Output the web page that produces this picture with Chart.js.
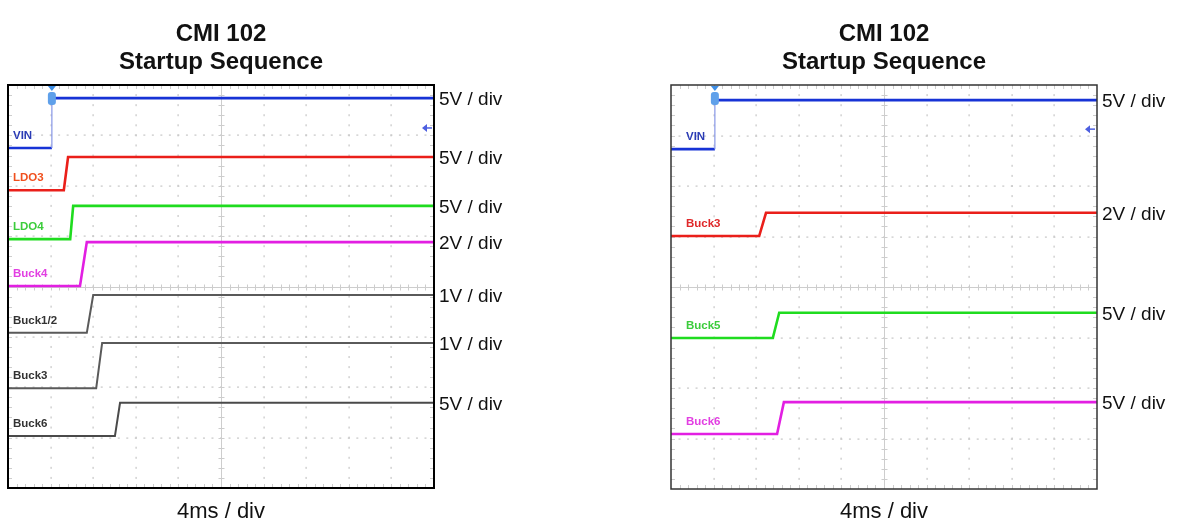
<!DOCTYPE html>
<html><head><meta charset="utf-8">
<script src="https://cdn.jsdelivr.net/npm/chart.js@4.4.0/dist/chart.umd.min.js"></script>
<style>
html,body{margin:0;padding:0;background:#fff;width:1177px;height:526px;overflow:hidden}
canvas{position:absolute;top:0}
</style></head><body>
<canvas id="c1" width="590" height="526" style="left:0"></canvas>
<canvas id="c2" width="587" height="526" style="left:590px"></canvas>
<script>
const titleLines = ['CMI 102', 'Startup Sequence'];
const timeLabel = '4ms / div';

// Left panel (x in divisions of 4 ms, y in screen divisions from bottom)
const leftNames = ['VIN', 'LDO3', 'LDO4', 'Buck4', 'Buck1/2', 'Buck3', 'Buck6'];
const leftVoltsPerDiv = ['5V / div', '5V / div', '5V / div', '2V / div', '1V / div', '1V / div', '5V / div'];
const leftTimes = [
  [0, 1.03, 1.03, 10],
  [0, 1.31, 1.41, 10],
  [0, 1.46, 1.53, 10],
  [0, 1.69, 1.85, 10],
  [0, 1.85, 2.00, 10],
  [0, 2.07, 2.21, 10],
  [0, 2.51, 2.63, 10]
];
const leftLevels = [
  [6.75, 6.75, 7.74, 7.74],
  [5.91, 5.91, 6.57, 6.57],
  [4.94, 4.94, 5.60, 5.60],
  [4.01, 4.01, 4.88, 4.88],
  [3.08, 3.08, 3.83, 3.83],
  [1.98, 1.98, 2.88, 2.88],
  [1.03, 1.03, 1.69, 1.69]
];

// Right panel
const rightNames = ['VIN', 'Buck3', 'Buck5', 'Buck6'];
const rightVoltsPerDiv = ['5V / div', '2V / div', '5V / div', '5V / div'];
const rightTimes = [
  [0, 1.03, 1.03, 10],
  [0, 2.07, 2.23, 10],
  [0, 2.39, 2.54, 10],
  [0, 2.49, 2.65, 10]
];
const rightLevels = [
  [6.73, 6.73, 7.70, 7.70],
  [5.01, 5.01, 5.47, 5.47],
  [2.99, 2.99, 3.49, 3.49],
  [1.09, 1.09, 1.72, 1.72]
];

const leftTraceColors = ['#1733d6', '#ea1f1a', '#1fdc1f', '#e21fe2', '#5a5a5a', '#5a5a5a', '#4a4a4a'];
const leftNameColors  = ['#2a3bb5', '#f0501e', '#3ccc3c', '#e23fe2', '#333333', '#333333', '#333333'];
const rightTraceColors = ['#1733d6', '#ea1f1a', '#1fdc1f', '#e21fe2'];
const rightNameColors  = ['#2a3bb5', '#e0282a', '#3ccc3c', '#e23fe2'];

function scopePlugin(cfg) {
  return {
    id: 'scope',
    beforeDatasetsDraw(chart) {
      const {ctx, chartArea: a, scales: {x, y}} = chart;
      ctx.save();
      // dotted graticule
      ctx.fillStyle = '#c6c6c6';
      for (let i = 1; i < 10; i++) {
        if (i === 5) continue;
        const px = Math.round(x.getPixelForValue(i));
        for (let m = 1; m < 40; m++) {
          const py = y.getPixelForValue(m * 0.2);
          ctx.fillRect(px - 0.5, py - 1, 1.2, 2);
        }
      }
      for (let j = 1; j < 8; j++) {
        if (j === 4) continue;
        const py = Math.round(y.getPixelForValue(j));
        for (let m = 1; m < 50; m++) {
          const px = x.getPixelForValue(m * 0.2);
          ctx.fillRect(px - 1, py - 0.5, 2, 1.2);
        }
      }
      // center axes with minor ticks
      ctx.strokeStyle = '#cdcdcd';
      ctx.lineWidth = 1;
      const cx = Math.round(x.getPixelForValue(5)) + 0.5;
      const cy = Math.round(y.getPixelForValue(4)) + 0.5;
      ctx.beginPath();
      ctx.moveTo(cx, a.top); ctx.lineTo(cx, a.bottom);
      ctx.moveTo(a.left, cy); ctx.lineTo(a.right, cy);
      for (let m = 1; m < 40; m++) {
        const py = Math.round(y.getPixelForValue(m * 0.2)) + 0.5;
        ctx.moveTo(cx - 3, py); ctx.lineTo(cx + 3, py);
        ctx.moveTo(a.left, py); ctx.lineTo(a.left + 4, py);
        ctx.moveTo(a.right, py); ctx.lineTo(a.right - 4, py);
      }
      for (let m = 1; m < 50; m++) {
        const px = Math.round(x.getPixelForValue(m * 0.2)) + 0.5;
        ctx.moveTo(px, cy - 3); ctx.lineTo(px, cy + 3);
        ctx.moveTo(px, a.top); ctx.lineTo(px, a.top + 4);
        ctx.moveTo(px, a.bottom); ctx.lineTo(px, a.bottom - 4);
      }
      ctx.stroke();
      ctx.restore();
    },
    afterDatasetsDraw(chart) {
      const {ctx, chartArea: a, scales: {x, y}} = chart;
      ctx.save();
      // frame
      ctx.strokeStyle = cfg.frameColor;
      ctx.lineWidth = cfg.frameWidth;
      ctx.strokeRect(a.left, a.top, a.width, a.height);
      // trigger marker at VIN rise
      const tx = x.getPixelForValue(cfg.times[0][1]);
      ctx.fillStyle = '#3f8fe6';
      ctx.beginPath();
      ctx.moveTo(tx - 4, a.top + 1); ctx.lineTo(tx + 4, a.top + 1); ctx.lineTo(tx, a.top + 6);
      ctx.closePath(); ctx.fill();
      ctx.fillStyle = '#5fa0ea';
      ctx.beginPath();
      ctx.roundRect(tx - 4, a.top + 7, 8, 13, 3);
      ctx.fill();
      // ground reference arrow
      const gy = y.getPixelForValue(cfg.levels[0][0]) - 20;
      ctx.strokeStyle = '#4d5fe0'; ctx.fillStyle = '#4d5fe0'; ctx.lineWidth = 1.5;
      ctx.beginPath(); ctx.moveTo(a.right - 9, gy); ctx.lineTo(a.right - 2, gy); ctx.stroke();
      ctx.beginPath(); ctx.moveTo(a.right - 12, gy); ctx.lineTo(a.right - 7, gy - 4); ctx.lineTo(a.right - 7, gy + 4);
      ctx.closePath(); ctx.fill();
      // channel names
      ctx.font = 'bold 11.5px "Liberation Sans", Arial, sans-serif';
      ctx.textBaseline = 'middle';
      ctx.textAlign = 'left';
      cfg.names.forEach((n, i) => {
        ctx.fillStyle = cfg.nameColors[i];
        ctx.fillText(n, a.left + cfg.nameDx, y.getPixelForValue(cfg.levels[i][0]) - 12);
      });
      // volts/div labels
      ctx.font = '19px "Liberation Sans", Arial, sans-serif';
      ctx.fillStyle = '#111';
      cfg.vdiv.forEach((t, i) => {
        ctx.fillText(t, a.right + 5, y.getPixelForValue(cfg.levels[i][3]) + 2);
      });
      // titles
      const mx = (a.left + a.right) / 2;
      ctx.textAlign = 'center';
      ctx.font = 'bold 24px "Liberation Sans", Arial, sans-serif';
      ctx.fillText(titleLines[0], mx, 34);
      ctx.fillText(titleLines[1], mx, 62);
      ctx.font = '22px "Liberation Sans", Arial, sans-serif';
      ctx.fillText(timeLabel, mx, 512);
      ctx.restore();
    }
  };
}

function makeScope(id, cfg, padding) {
  const datasets = cfg.names.map((n, i) => ({
    label: n,
    data: cfg.times[i].map((t, k) => ({x: t, y: cfg.levels[i][k]})),
    borderColor: cfg.traceColors[i],
    borderWidth: cfg.traceColors[i] === '#5a5a5a' || cfg.traceColors[i] === '#4a4a4a' ? 2 : 2.6,
    pointRadius: 0,
    tension: 0,
    fill: false,
    segment: {
      borderWidth: c => (i === 0 && c.p0.parsed.x === c.p1.parsed.x) ? 1.2 : undefined,
      borderColor: c => (i === 0 && c.p0.parsed.x === c.p1.parsed.x) ? '#8796e6' : undefined
    }
  }));
  return new Chart(document.getElementById(id), {
    type: 'line',
    data: {datasets},
    options: {
      responsive: false,
      animation: false,
      devicePixelRatio: 1,
      layout: {padding},
      plugins: {legend: {display: false}, tooltip: {enabled: false}, title: {display: false}},
      scales: {
        x: {type: 'linear', min: 0, max: 10, display: false},
        y: {type: 'linear', min: 0, max: 8, display: false}
      }
    },
    plugins: [scopePlugin(cfg)]
  });
}

makeScope('c1', {
  names: leftNames, vdiv: leftVoltsPerDiv, times: leftTimes, levels: leftLevels,
  traceColors: leftTraceColors, nameColors: leftNameColors,
  frameColor: '#000', frameWidth: 2, nameDx: 5
}, {left: 8, right: 156, top: 85, bottom: 38});

makeScope('c2', {
  names: rightNames, vdiv: rightVoltsPerDiv, times: rightTimes, levels: rightLevels,
  traceColors: rightTraceColors, nameColors: rightNameColors,
  frameColor: '#333', frameWidth: 1.5, nameDx: 15
}, {left: 81, right: 80, top: 85, bottom: 37});
</script>
</body></html>
